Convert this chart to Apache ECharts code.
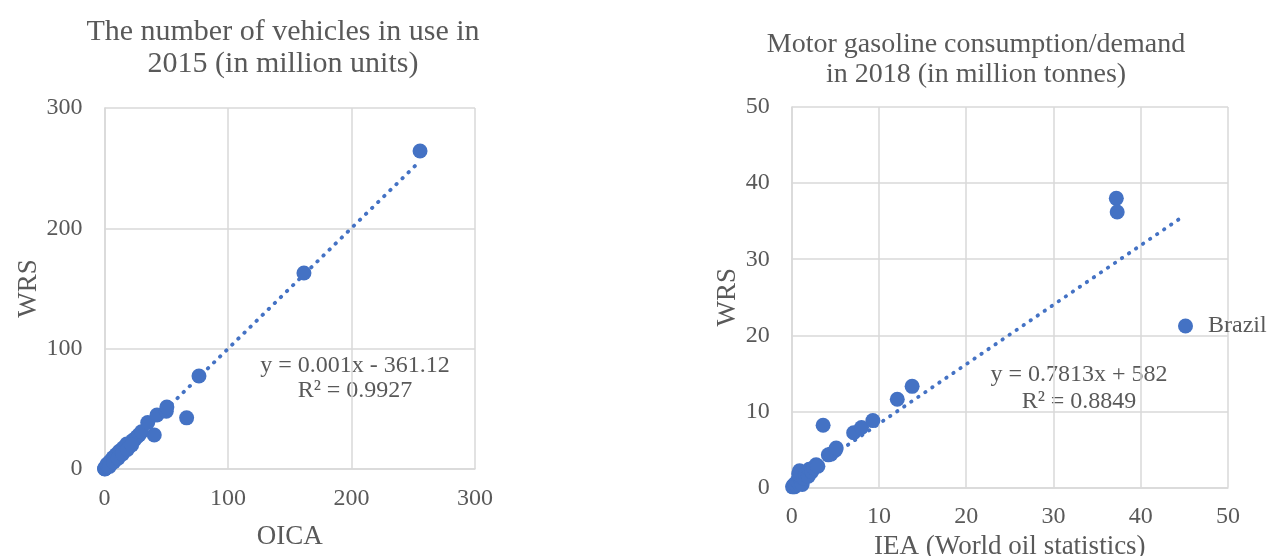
<!DOCTYPE html>
<html>
<head>
<meta charset="utf-8">
<script src="https://cdn.jsdelivr.net/npm/echarts@6/dist/echarts.min.js"></script>
<style>
html,body{margin:0;padding:0;background:#fff;}
#c{width:1270px;height:556px;}
</style>
</head>
<body>
<div id="c"></div>
<script>
// ---------- DATA ----------
const leftTitle = "The number of vehicles in use in\n2015 (in million units)";
const rightTitle = "Motor gasoline consumption/demand\nin 2018 (in million tonnes)";
const leftXName = "OICA";
const rightXName = "IEA (World oil statistics)";
const yName = "WRS";
const legendName = "Brazil";

// Vehicles in use 2015 [OICA, WRS]
const vehiclesPoints = [
  [0.1,0.2],[0.2,0.4],[0.3,0.1],[0.5,0.6],[0.7,0.5],[0.9,1.1],[1.2,1.0],[1.5,1.8],
  [1.8,1.4],[2.1,2.4],[2.5,2.2],[3.0,3.3],[3.4,3.0],[4.0,4.4],[4.6,4.2],[5.2,5.6],
  [6.0,5.7],[6.8,7.2],[7.6,7.4],[8.5,9.0],[9.4,9.1],[10.3,10.9],[11.3,11.0],[12.3,12.9],
  [13.4,13.1],[14.5,15.2],[15.7,15.4],[17.0,17.8],[18.3,18.0],[19.7,20.6],[21.2,21.0],
  [22.8,23.7],[24.5,24.6],[26.3,26.8],[28.0,28.4],[30.0,31.0],
  [2.0,4.0],[4.5,6.5],[7.0,9.5],[9.5,12.0],[12.0,14.8],[15.0,17.5],[18.0,20.8],
  [4.0,2.2],[7.5,5.8],[11.0,9.0],[14.5,12.5],[18.5,16.2],[22.0,20.0],
  [35.0,38.7],[40.3,28.3],[42.5,44.9],[50.0,48.0],[50.5,51.5],[66.5,42.5],
  [76.5,77.3],[161.5,162.9],[255.5,264.3]
];
const vehiclesTrendX = [0, 255.5];
const vehiclesTrendY = [-0.36, 255.9];
const vehiclesEquation = "y = 0.001x - 361.12\nR² = 0.9927";

// Motor gasoline 2018 [IEA, WRS]
const gasolinePoints = [
  [0.1,0.1],[0.2,0.3],[0.3,0.1],[0.4,0.5],[0.5,0.3],[0.6,0.8],[0.8,0.6],[1.0,1.0],
  [1.2,0.4],[1.1,1.4],[0.8,1.8],[0.9,2.2],[1.4,1.2],[1.6,1.7],[1.9,1.5],[2.0,2.4],
  [2.3,2.1],[2.5,2.6],[2.8,3.0],[3.0,2.8],[4.2,4.3],[4.5,4.4],[5.0,4.9],[5.1,5.2],
  [7.1,7.2],[8.0,7.9],[9.3,8.8],[3.6,8.2],[12.1,11.6],[13.8,13.3],[37.2,38.0],[37.3,36.2]
];
const gasolineTrendX = [0, 44.9];
const gasolineTrendY = [0.58, 35.66];
const gasolineEquation = "y = 0.7813x + 582\nR² = 0.8849";

const leftTicks = {min: 0, max: 300, interval: 100};
const rightTicks = {min: 0, max: 50, interval: 10};

// ---------- STYLE ----------
const FONT = '"Liberation Serif","Times New Roman",serif';
const TXT = '#595959';
const BLUE = '#4472C4';
const GRID = '#d9d9d9';

function xAxis(gridIndex, ticks, name, gap, margin) {
  return {
    type: 'value', gridIndex, min: ticks.min, max: ticks.max, interval: ticks.interval,
    name, nameLocation: 'middle', nameGap: gap, nameMoveOverlap: false,
    nameTextStyle: {fontFamily: FONT, fontSize: 27, color: TXT, lineHeight: 27},
    axisLine: {show: true, lineStyle: {color: GRID, width: 1.5}},
    axisTick: {show: false},
    axisLabel: {fontFamily: FONT, fontSize: 24, color: TXT, margin},
    splitLine: {show: true, lineStyle: {color: GRID, width: 1.5}}
  };
}
function yAxis(gridIndex, ticks, gap) {
  return {
    type: 'value', gridIndex, min: ticks.min, max: ticks.max, interval: ticks.interval,
    name: yName, nameLocation: 'middle', nameGap: gap,
    nameTextStyle: {fontFamily: FONT, fontSize: 27, color: TXT},
    axisLine: {show: true, lineStyle: {color: GRID, width: 1.5}},
    axisTick: {show: false},
    axisLabel: {fontFamily: FONT, fontSize: 24, color: TXT, margin: 22},
    splitLine: {show: true, lineStyle: {color: GRID, width: 1.5}}
  };
}
function trend(xs, ys, idx) {
  return {
    type: 'line', xAxisIndex: idx, yAxisIndex: idx, symbol: 'none', silent: true,
    clip: false, z: 1,
    data: xs.map((x, i) => [x, ys[i]]),
    lineStyle: {color: BLUE, width: 3.8, type: [0.5, 8], cap: 'round'}
  };
}

const chart = echarts.init(document.getElementById('c'), null, {renderer: 'canvas'});
chart.setOption({
  animation: false,
  backgroundColor: '#fff',
  title: [
    {text: leftTitle, left: 278, top: 11, textAlign: 'center',
     textStyle: {fontFamily: FONT, fontSize: 30, fontWeight: 'normal', color: TXT, lineHeight: 32}},
    {text: rightTitle, left: 971, top: 25, textAlign: 'center',
     textStyle: {fontFamily: FONT, fontSize: 28, fontWeight: 'normal', color: TXT, lineHeight: 30}}
  ],
  legend: {
    data: [{name: legendName, icon: 'circle'}],
    left: 1173, top: 309, itemWidth: 15, itemHeight: 15,
    textStyle: {fontFamily: FONT, fontSize: 24, color: TXT, padding: [0, 0, 0, 10]}
  },
  grid: [
    {left: 104.5, right: 1270 - 475, top: 108, bottom: 556 - 469, outerBoundsMode: 'none'},
    {left: 791.7, right: 1270 - 1228, top: 107, bottom: 556 - 487.6, outerBoundsMode: 'none'}
  ],
  xAxis: [xAxis(0, leftTicks, leftXName, 54, 18), xAxis(1, rightTicks, rightXName, 46, 17)],
  yAxis: [yAxis(0, leftTicks, 62), yAxis(1, rightTicks, 50)],
  graphic: [
    {type: 'text', x: 355, y: 353, style: {text: vehiclesEquation, font: '24px ' + FONT, fill: TXT, align: 'center', verticalAlign: 'top', lineHeight: 25}},
    {type: 'text', x: 1079, y: 361, style: {text: gasolineEquation, font: '24px ' + FONT, fill: TXT, align: 'center', verticalAlign: 'top', lineHeight: 27}}
  ],
  series: [
    trend(vehiclesTrendX, vehiclesTrendY, 0),
    {type: 'scatter', name: 'vehicles', xAxisIndex: 0, yAxisIndex: 0, clip: false, z: 2,
     symbolSize: 15, itemStyle: {color: BLUE, opacity: 1}, data: vehiclesPoints},
    trend(gasolineTrendX, gasolineTrendY, 1),
    {type: 'scatter', name: legendName, xAxisIndex: 1, yAxisIndex: 1, clip: false, z: 2,
     symbolSize: 15, itemStyle: {color: BLUE, opacity: 1}, data: gasolinePoints}
  ]
});
</script>
</body>
</html>
